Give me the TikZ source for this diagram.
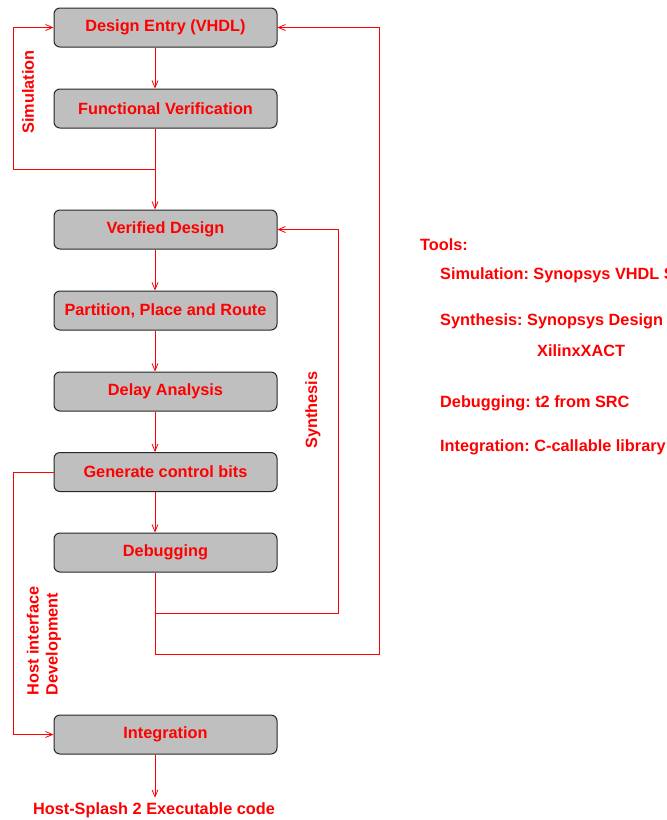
\documentclass[tikz,border=0pt]{standalone}
\usepackage{fontspec}
\setmainfont{Liberation Sans}
\frenchspacing
\usetikzlibrary{arrows.meta}
\definecolor{boxgray}{RGB}{191,191,191}
\tikzset{
  stage/.style={draw=black!85, line width=1pt, fill=boxgray, rounded corners=6pt,
    minimum width=223pt, minimum height=39pt, text=red,
    font=\bfseries\fontsize{16.3}{19}\selectfont},
  flow/.style={draw=red, line width=0.8pt, -{Straight Barb[length=7pt,width=6pt]}},
  lbl/.style={text=red, font=\bfseries\fontsize{16.3}{19}\selectfont, inner sep=1pt},
}
\begin{document}
\begin{tikzpicture}[x=1pt,y=-1pt]
  \useasboundingbox (0,0) rectangle (667,820);

  % Schritte des Entwurfsablaufs
  \node[stage] (de) at (165.5,27.5) {Design Entry (VHDL)};
  \node[stage] (fv) at (165.5,108.5) {Functional Verification};
  \node[stage] (vd) at (165.5,229.5) {Verified Design};
  \node[stage] (pr) at (165.5,310.5) {Partition, Place and Route};
  \node[stage] (da) at (165.5,391.5) {Delay Analysis};
  \node[stage] (gc) at (165.5,472) {Generate control bits};
  \node[stage] (db) at (165.5,552.5) {Debugging};
  \node[stage] (ig) at (165.5,734.5) {Integration};
  \node[lbl] (out) at (154,810.5) {Host-Splash 2 Executable code};

  % Hilfspunkte fuer die Rueckfuehrungen
  \coordinate (sp) at (155,0);    % senkrechte Hauptlinie
  \coordinate (simc) at (13,169); % Simulationsschleife
  \coordinate (sync) at (338,613); % Syntheseschleife
  \coordinate (retc) at (379,654); % Ruecksprung zum Entwurf
  \coordinate (lft) at (13,0);

  % Hauptfluss
  \draw[flow] (de.south -| sp) -- (fv.north -| sp);
  \draw[flow] (fv.south -| sp) -- (vd.north -| sp);
  \draw[flow] (vd.south -| sp) -- (pr.north -| sp);
  \draw[flow] (pr.south -| sp) -- (da.north -| sp);
  \draw[flow] (da.south -| sp) -- (gc.north -| sp);
  \draw[flow] (gc.south -| sp) -- (db.north -| sp);
  \draw[flow] (ig.south -| sp) -- ([yshift=4pt]out.north -| sp);

  % Rueckfuehrungen
  \draw[flow] (fv.south -| sp) |- (simc) |- (de.west);
  \draw[flow] (db.south -| sp) |- (sync) |- (vd.east);
  \draw[flow] (db.south -| sp) |- (retc) |- (de.east);
  \draw[flow] (gc.west) -- (gc.west -| lft) |- (ig.west);

  % Beschriftungen der Schleifen
  \node[lbl, rotate=90] (simlbl) at (28,92) {Simulation};
  \node[lbl, rotate=90] (synlbl) at (313,410) {Synthesis};
  \node[lbl, rotate=90, align=left] (hostlbl) at (44,641) {Host interface\\Development};

  % Werkzeuge
  \node[lbl, anchor=west] (tools) at (419,245) {Tools:};
  \node[lbl, anchor=west] (tsim) at (439,275) {Simulation: Synopsys VHDL S};
  \node[lbl, anchor=west] (tsyn) at (439,321) {Synthesis: Synopsys Design};
  \node[lbl, anchor=west] (txil) at (536,351) {XilinxXACT};
  \node[lbl, anchor=west] (tdbg) at (439,403) {Debugging: t2 from SRC};
  \node[lbl, anchor=west] (tint) at (439,447) {Integration: C-callable library};
\end{tikzpicture}
\end{document}
